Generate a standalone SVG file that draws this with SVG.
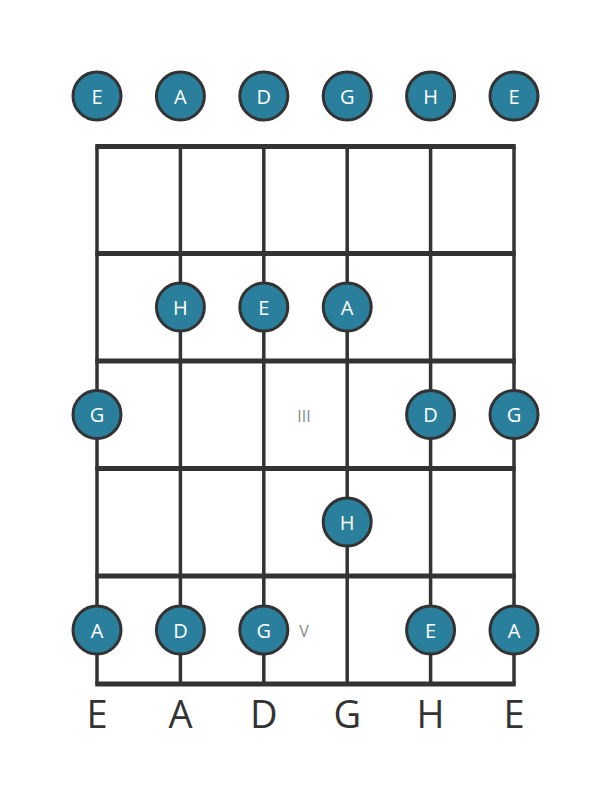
<svg xmlns="http://www.w3.org/2000/svg" width="611" height="801" viewBox="0 0 611 801">
<style>
.s{stroke:#333;stroke-width:3.5;fill:none}
.f{stroke:#333;stroke-width:5;fill:none}
.n circle{fill:#2a7f9d;stroke:#333;stroke-width:3}
.n text{fill:#fff;font-family:"Open Sans","DejaVu Sans",sans-serif;font-size:20px;text-anchor:middle;dominant-baseline:central}
.lbl{fill:#333;font-family:"Open Sans","DejaVu Sans",sans-serif;font-size:38px;text-anchor:middle}
.rom{fill:#888;font-family:"Open Sans","DejaVu Sans",sans-serif;font-size:16px;text-anchor:middle;dominant-baseline:central}
</style>
<rect width="611" height="801" fill="#fff"/>
<g id="connectors">
<line class="s" x1="97" y1="146.5" x2="97" y2="684"/>
<line class="s" x1="180.4" y1="146.5" x2="180.4" y2="684"/>
<line class="s" x1="263.8" y1="146.5" x2="263.8" y2="684"/>
<line class="s" x1="347.2" y1="146.5" x2="347.2" y2="684"/>
<line class="s" x1="430.6" y1="146.5" x2="430.6" y2="684"/>
<line class="s" x1="514" y1="146.5" x2="514" y2="684"/>
<line class="f" x1="95.25" y1="146.5" x2="515.75" y2="146.5"/>
<line class="f" x1="95.25" y1="253.5" x2="515.75" y2="253.5"/>
<line class="f" x1="95.25" y1="361" x2="515.75" y2="361"/>
<line class="f" x1="95.25" y1="468.5" x2="515.75" y2="468.5"/>
<line class="f" x1="95.25" y1="576" x2="515.75" y2="576"/>
<line class="f" x1="95.25" y1="684" x2="515.75" y2="684"/>
</g>
<g id="open-E1" class="n"><circle cx="97" cy="96" r="24"/><text x="97" y="96">E</text></g>
<g id="open-A" class="n"><circle cx="180.4" cy="96" r="24"/><text x="180.4" y="96">A</text></g>
<g id="open-D" class="n"><circle cx="263.8" cy="96" r="24"/><text x="263.8" y="96">D</text></g>
<g id="open-G" class="n"><circle cx="347.2" cy="96" r="24"/><text x="347.2" y="96">G</text></g>
<g id="open-H" class="n"><circle cx="430.6" cy="96" r="24"/><text x="430.6" y="96">H</text></g>
<g id="open-E2" class="n"><circle cx="514" cy="96" r="24"/><text x="514" y="96">E</text></g>
<g id="f2-H" class="n"><circle cx="180.4" cy="307" r="24"/><text x="180.4" y="307">H</text></g>
<g id="f2-E" class="n"><circle cx="263.8" cy="307" r="24"/><text x="263.8" y="307">E</text></g>
<g id="f2-A" class="n"><circle cx="347.2" cy="307" r="24"/><text x="347.2" y="307">A</text></g>
<g id="f3-G1" class="n"><circle cx="97" cy="414.5" r="24"/><text x="97" y="414.5">G</text></g>
<g id="f3-D" class="n"><circle cx="430.6" cy="414.5" r="24"/><text x="430.6" y="414.5">D</text></g>
<g id="f3-G2" class="n"><circle cx="514" cy="414.5" r="24"/><text x="514" y="414.5">G</text></g>
<g id="f4-H" class="n"><circle cx="347.2" cy="522" r="24"/><text x="347.2" y="522">H</text></g>
<g id="f5-A1" class="n"><circle cx="97" cy="630" r="24"/><text x="97" y="630">A</text></g>
<g id="f5-D" class="n"><circle cx="180.4" cy="630" r="24"/><text x="180.4" y="630">D</text></g>
<g id="f5-G" class="n"><circle cx="263.8" cy="630" r="24"/><text x="263.8" y="630">G</text></g>
<g id="f5-E" class="n"><circle cx="430.6" cy="630" r="24"/><text x="430.6" y="630">E</text></g>
<g id="f5-A2" class="n"><circle cx="514" cy="630" r="24"/><text x="514" y="630">A</text></g>
<g id="markers">
<text class="rom" x="304" y="416">III</text>
<text class="rom" x="304" y="631">V</text>
</g>
<g id="labels">
<text class="lbl" x="97" y="728">E</text>
<text class="lbl" x="180.4" y="728">A</text>
<text class="lbl" x="263.8" y="728">D</text>
<text class="lbl" x="347.2" y="728">G</text>
<text class="lbl" x="430.6" y="728">H</text>
<text class="lbl" x="514" y="728">E</text>
</g>
</svg>
